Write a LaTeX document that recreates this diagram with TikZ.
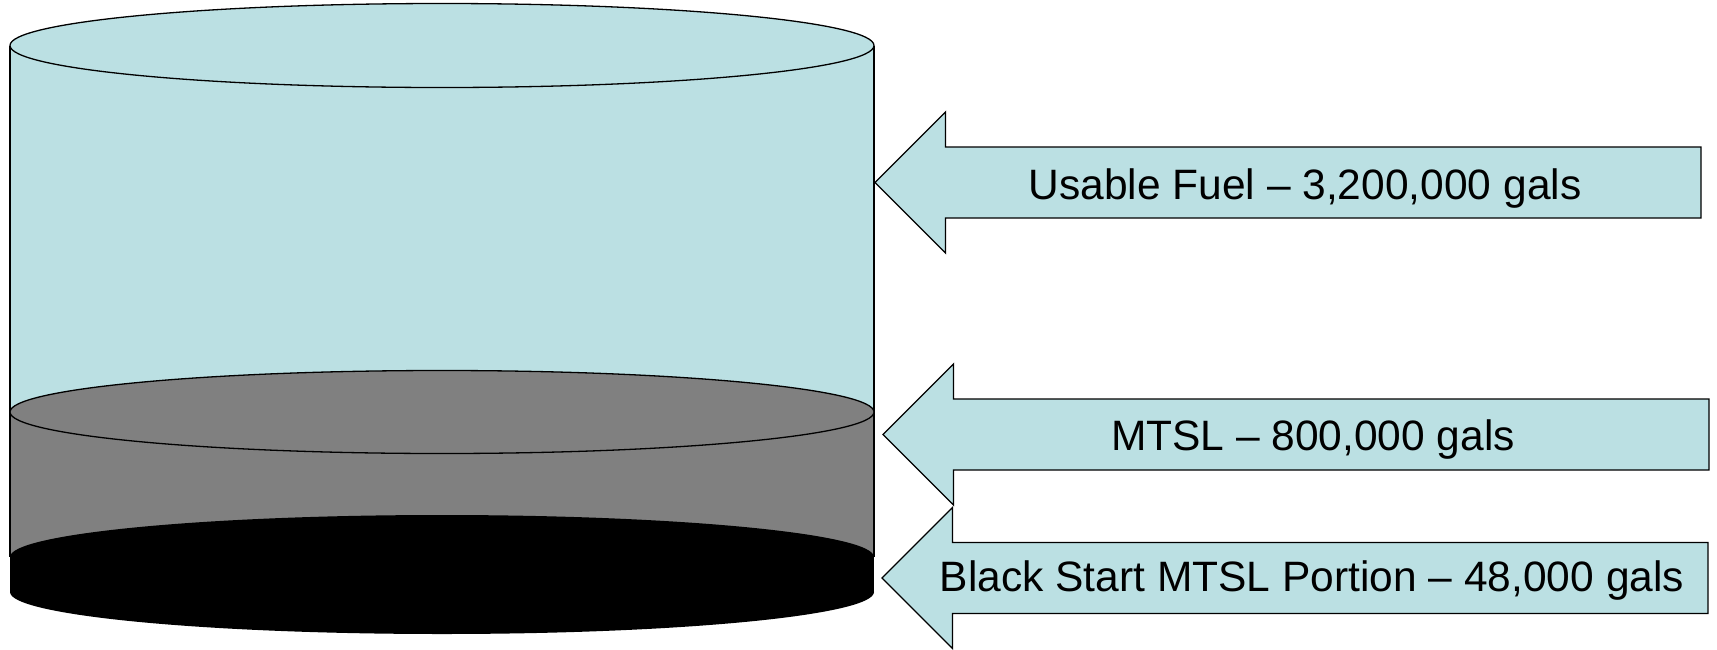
\documentclass[tikz,border=0pt]{standalone}
\usepackage{fontspec}
\setmainfont{Liberation Sans}
\usepackage{tikz}
\definecolor{tankblue}{HTML}{BBE0E3}
\definecolor{tankgray}{HTML}{808080}

\begin{document}
\begin{tikzpicture}[x=1pt,y=-1pt,line width=1.3pt,
	tagarrow/.style={fill=tankblue,draw=black,line join=miter},
	taglabel/.style={anchor=base,font=\fontsize{42.5}{50}\selectfont}]
	\useasboundingbox (0,0) rectangle (1717,649);

	% usable fuel
	\fill[tankblue] (10,45.5) rectangle (874,412);
	\draw (10,45.5) -- (10,412);
	\draw (874,45.5) -- (874,412);
	\filldraw[fill=tankblue] (442,45.5) ellipse [x radius=432, y radius=42];

	% MTSL
	\fill[tankgray] (10,412) rectangle (874,557);
	\draw (10,412) -- (10,557);
	\draw (874,412) -- (874,557);
	\filldraw[fill=tankgray] (442,412) ellipse [x radius=432, y radius=41.5];

	% black start
	\fill (10,557) rectangle (874,592);
	\fill (442,592) ellipse [x radius=432, y radius=42];
	\fill (442,557) ellipse [x radius=432, y radius=42];

	\filldraw[tagarrow] (875,182.5) -- (945.5,112) -- (945.5,147) -- (1701,147)
		-- (1701,218) -- (945.5,218) -- (945.5,253) -- cycle;
	\node[taglabel] (usable) at (1305,199.5) {Usable Fuel – 3,200,000 gals};

	\filldraw[tagarrow] (883,434.5) -- (953.5,364) -- (953.5,399) -- (1709,399)
		-- (1709,470) -- (953.5,470) -- (953.5,505) -- cycle;
	\node[taglabel] (mtsl) at (1313,450) {MTSL – 800,000 gals};

	\filldraw[tagarrow] (882,578) -- (952.5,507.5) -- (952.5,542.5) -- (1708,542.5)
		-- (1708,613.5) -- (952.5,613.5) -- (952.5,648.5) -- cycle;
	\node[taglabel] (blackstart) at (1312,591) {Black Start MTSL Portion – 48,000 gals};
\end{tikzpicture}
\end{document}
